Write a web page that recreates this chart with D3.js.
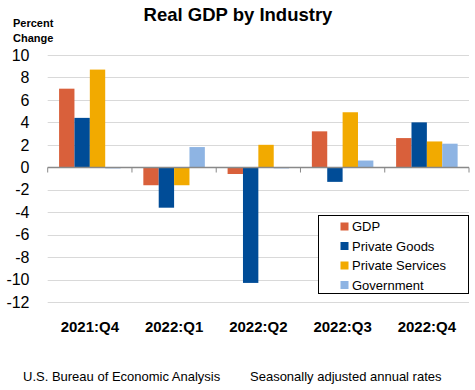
<!DOCTYPE html>
<html><head><meta charset="utf-8">
<script src="https://cdn.jsdelivr.net/npm/d3@7"></script>
<style>body{margin:0;background:#fff}svg{display:block;font-family:"Liberation Sans",Arial,sans-serif}</style>
</head><body>
<svg id="c" width="475" height="390"></svg>
<script>
const categories = ["2021:Q4","2022:Q1","2022:Q2","2022:Q3","2022:Q4"];
const seriesNames = ["GDP","Private Goods","Private Services","Government"];
const gdp = [7.0, -1.6, -0.6, 3.2, 2.6];
const privateGoods = [4.4, -3.6, -10.3, -1.3, 4.0];
const privateServices = [8.7, -1.6, 2.0, 4.9, 2.3];
const government = [-0.1, 1.8, -0.1, 0.6, 2.1];
const yTicks = [10,8,6,4,2,0,-2,-4,-6,-8,-10,-12];
const colors = ["#D9603B","#004C97","#F2AA00","#8EB4E3"];

const seriesValues = [gdp, privateGoods, privateServices, government];
const svg = d3.select("#c");
const plotLeft = 47.7, plotRight = 469, plotTop = 55, plotBottom = 302;

const x0 = d3.scaleBand().domain(categories).range([plotLeft, plotRight]).paddingInner(0).paddingOuter(0);
const x1 = d3.scaleBand().domain(seriesNames).range([0, x0.bandwidth()]).paddingInner(0).paddingOuter(0.74);
const y = d3.scaleLinear().domain([-12, 10]).range([plotBottom, plotTop]);

// gridlines
svg.append("g").selectAll("line").data(yTicks).join("line")
  .attr("x1", plotLeft).attr("x2", plotRight)
  .attr("y1", d => Math.round(y(d)) + 0.5).attr("y2", d => Math.round(y(d)) + 0.5)
  .attr("stroke", "#d9d9d9").attr("stroke-width", 1);

// y labels
svg.append("g").selectAll("text").data(yTicks).join("text")
  .attr("x", 29.5).attr("y", d => y(d)).attr("dy", "0.36em")
  .attr("text-anchor", "end").attr("font-size", 16).attr("fill", "#000")
  .text(d => d);

// bars
const g = svg.append("g").selectAll("g").data(categories).join("g")
  .attr("transform", d => `translate(${x0(d)},0)`);
g.selectAll("rect").data((d, i) => seriesNames.map((s, j) => ({s, j, v: seriesValues[j][i]}))).join("rect")
  .attr("x", d => x1(d.s)).attr("width", x1.bandwidth())
  .attr("y", d => y(Math.max(0, d.v))).attr("height", d => Math.abs(y(d.v) - y(0)))
  .attr("fill", d => colors[d.j]);

// zero axis
const zy = Math.round(y(0)) + 0.5;
svg.append("line").attr("x1", plotLeft).attr("x2", plotRight).attr("y1", zy).attr("y2", zy)
  .attr("stroke", "#898989").attr("stroke-width", 1.3);
const bounds = categories.map(c => x0(c)).concat([plotRight]);
svg.append("g").selectAll("line").data(bounds).join("line")
  .attr("x1", d => d).attr("x2", d => d).attr("y1", zy).attr("y2", zy + 5)
  .attr("stroke", "#898989").attr("stroke-width", 1);

// x labels
svg.append("g").selectAll("text").data(categories).join("text")
  .attr("x", d => x0(d) + x0.bandwidth() / 2).attr("y", 331.5)
  .attr("text-anchor", "middle").attr("font-size", 15).attr("font-weight", "bold")
  .text(d => d);

// title
svg.append("text").attr("x", 238).attr("y", 20.5).attr("text-anchor", "middle")
  .attr("font-size", 18.5).attr("font-weight", "bold").text("Real GDP by Industry");
svg.append("text").attr("x", 13).attr("y", 27).attr("font-size", 11).attr("font-weight", "bold").text("Percent");
svg.append("text").attr("x", 13).attr("y", 41.5).attr("font-size", 11).attr("font-weight", "bold").text("Change");

// legend
const lg = svg.append("g");
lg.append("rect").attr("x", 318.5).attr("y", 215.5).attr("width", 150).attr("height", 78)
  .attr("fill", "#fff").attr("stroke", "#000").attr("stroke-width", 1);
const items = lg.selectAll("g").data(seriesNames).join("g")
  .attr("transform", (d, i) => `translate(0,${226.5 + i * 19.5})`);
items.append("rect").attr("x", 340.5).attr("y", -4).attr("width", 8).attr("height", 8)
  .attr("fill", (d, i) => colors[i]);
items.append("text").attr("x", 352).attr("y", 0).attr("dy", "0.36em").attr("font-size", 13).text(d => d);

// footer
svg.append("text").attr("x", 23).attr("y", 380.5).attr("font-size", 13).text("U.S. Bureau of Economic Analysis");
svg.append("text").attr("x", 250).attr("y", 380.5).attr("font-size", 13).text("Seasonally adjusted annual rates");
</script>
</body></html>
